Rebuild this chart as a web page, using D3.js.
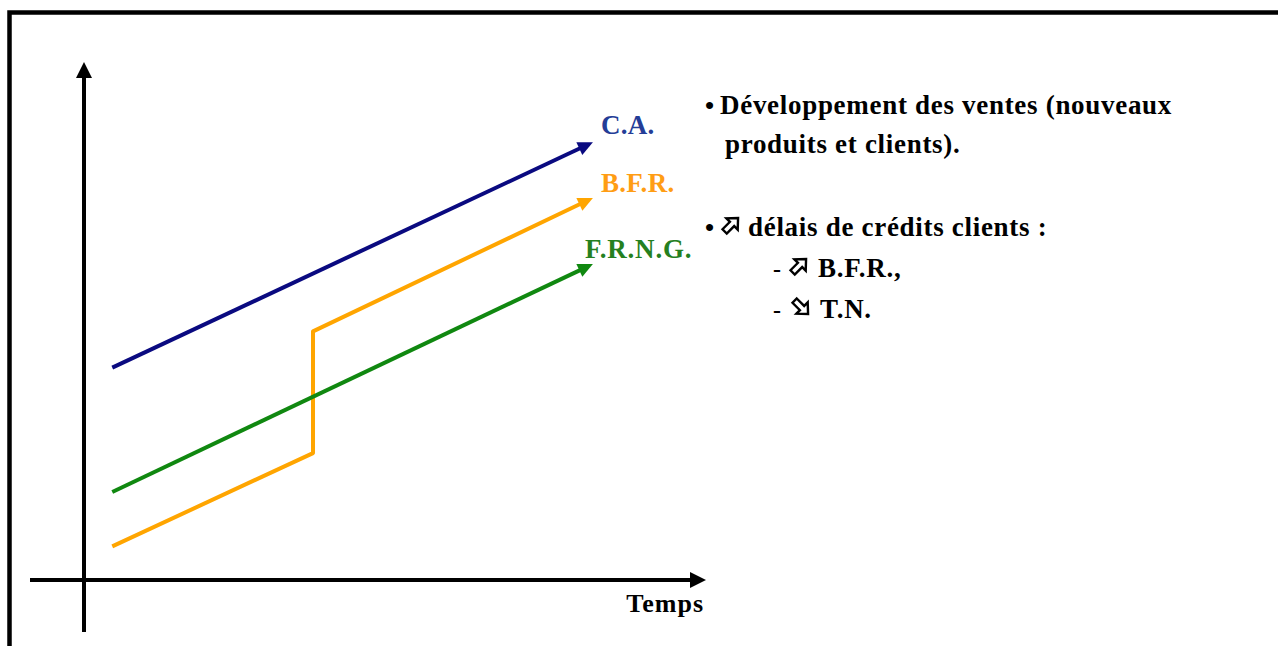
<!DOCTYPE html>
<html>
<head>
<meta charset="utf-8">
<script src="https://cdn.jsdelivr.net/npm/d3@7"></script>
<style>
  html, body { margin: 0; padding: 0; background: #fff; }
  svg { display: block; }
  .txt { font-family: "Liberation Serif", "Times New Roman", serif; font-weight: bold; }
</style>
</head>
<body>
<div id="chart"></div>
<script>
// data
const seriesNames = ["C.A.", "B.F.R.", "F.R.N.G."];
const caPoints = [[1, 8.2], [18, 16.9]];
const bfrPoints = [[1, 1.3], [8.1, 4.9], [8.1, 9.6], [18, 14.75]];
const frngPoints = [[1, 3.4], [18, 12.2]];
const xAxisLabel = "Temps";
const notes = [
  {bullet: "•", arrow: null, text: "Développement des ventes (nouveaux"},
  {bullet: "", arrow: null, text: "produits et clients)."},
  {bullet: "•", arrow: "up", text: "délais de crédits clients :"},
  {bullet: "-", arrow: "up", text: "B.F.R.,"},
  {bullet: "-", arrow: "down", text: "T.N."}
];

// styles / layout
const lineColors = ["#0a0a80", "#ffa500", "#108810"];
const labelColors = ["#243d97", "#ff9d14", "#25801f"];
const labelOffsets = [[8, -8], [8, -6], [-8, -6]];
const noteLayout = [
  {x: 705, y: 114, tx: 720, ax: 0},
  {x: 705, y: 153, tx: 725, ax: 0},
  {x: 705, y: 236, tx: 748, ax: 731},
  {x: 773, y: 277, tx: 818, ax: 799},
  {x: 773, y: 318, tx: 820, ax: 801}
];

const W = 1278, H = 646;
const svg = d3.select("#chart").append("svg").attr("width", W).attr("height", H);

const x = d3.scaleLinear().domain([0, 22]).range([84, 706]);
const y = d3.scaleLinear().domain([0, 20]).range([580, 62]);

// frame
svg.append("path")
  .attr("d", `M9.5,${H} L9.5,12.5 L${W},12.5`)
  .attr("fill", "none").attr("stroke", "#000").attr("stroke-width", 4.5);

// arrow helper: draws a shaft ending before the tip and a filled head
function arrowLine(g, pts, color, width, headLen, headHalf) {
  const p = pts.map(d => d.slice());
  const a = p[p.length - 2], b = p[p.length - 1];
  const dx = b[0] - a[0], dy = b[1] - a[1];
  const len = Math.hypot(dx, dy), ux = dx / len, uy = dy / len;
  const base = [b[0] - ux * headLen, b[1] - uy * headLen];
  const shaft = p.slice(0, -1).concat([[base[0] + ux * 2, base[1] + uy * 2]]);
  g.append("path")
    .attr("d", d3.line()(shaft))
    .attr("fill", "none").attr("stroke", color)
    .attr("stroke-width", width).attr("stroke-linejoin", "round");
  const nx = -uy, ny = ux;
  g.append("path")
    .attr("d", d3.line()([b, [base[0] + nx * headHalf, base[1] + ny * headHalf], [base[0] - nx * headHalf, base[1] - ny * headHalf]]) + "Z")
    .attr("fill", color);
}

// axes
const axes = svg.append("g");
arrowLine(axes, [[x(0), 632], [x(0), y(20)]], "#000", 4, 16, 8);
arrowLine(axes, [[30, y(0)], [x(22), y(0)]], "#000", 4, 16, 8);

axes.append("text").attr("class", "txt")
  .attr("x", x(22) - 2).attr("y", y(0) + 32)
  .attr("text-anchor", "end").attr("font-size", 26)
  .attr("letter-spacing", 1)
  .text(xAxisLabel);

// series
const allSeries = [caPoints, bfrPoints, frngPoints];
const sg = svg.append("g");
allSeries.forEach((pts, i) => {
  const px = pts.map(d => [x(d[0]), y(d[1])]);
  arrowLine(sg, px, lineColors[i], 4, 15, 7);
  const end = px[px.length - 1];
  sg.append("text").attr("class", "txt")
    .attr("x", end[0] + labelOffsets[i][0]).attr("y", end[1] + labelOffsets[i][1])
    .attr("font-size", 27).attr("fill", labelColors[i])
    .attr("letter-spacing", i === 2 ? 0.8 : 0.3)
    .text(seriesNames[i]);
});

// hollow arrow symbol (pointing right in local coords, then rotated)
const hollowArrow = [[-9, -3], [1.5, -3], [1.5, -8], [10, 0], [1.5, 8], [1.5, 3], [-9, 3]];

// notes
const ng = svg.append("g");
notes.forEach((n, i) => {
  const L = noteLayout[i];
  if (n.bullet) {
    ng.append("text").attr("class", "txt").attr("x", L.x).attr("y", L.y)
      .attr("font-size", n.bullet === "-" ? 24 : 26).text(n.bullet);
  }
  if (n.arrow) {
    ng.append("path")
      .attr("d", d3.line()(hollowArrow) + "Z")
      .attr("transform", `translate(${L.ax},${L.y - 11}) rotate(${n.arrow === "up" ? -45 : 45})`)
      .attr("fill", "#fff").attr("stroke", "#000").attr("stroke-width", 2.4)
      .attr("stroke-linejoin", "miter");
  }
  ng.append("text").attr("class", "txt").attr("x", L.tx).attr("y", L.y)
    .attr("font-size", 27).attr("letter-spacing", 0.7).text(n.text);
});
</script>
</body>
</html>
